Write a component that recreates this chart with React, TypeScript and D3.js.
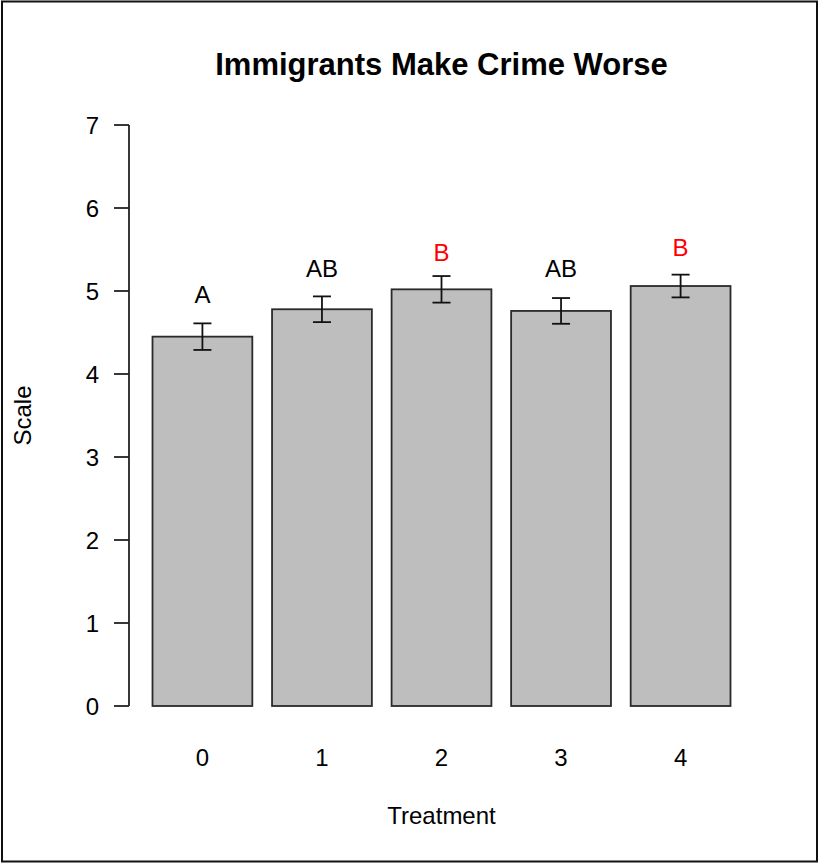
import React from "react";
import * as d3 from "d3";

// Treatment groups and their summary statistics
const treatments = ["0", "1", "2", "3", "4"];
const means = [4.45, 4.78, 5.02, 4.76, 5.06];
const stdErrors = [0.16, 0.155, 0.16, 0.155, 0.137];

// Compact letter display (group significance) and where each letter sits
const groupLetters = ["A", "AB", "B", "AB", "B"];
const letterColors = ["#000000", "#000000", "#ff0000", "#000000", "#ff0000"];
const letterHeights = [4.96, 5.27, 5.46, 5.27, 5.52];

const yTicks = [0, 1, 2, 3, 4, 5, 6, 7];

const W = 820;
const H = 865;
const FONT = "'Liberation Sans', Arial, sans-serif";

export default function App() {
  const y = d3.scaleLinear().domain([0, 7]).range([706, 125]);
  const x = d3
    .scaleBand<string>()
    .domain(treatments)
    .range([152.5, 730.5])
    .paddingInner(0.165)
    .paddingOuter(0);

  const axisX = 129;
  const tickLen = 15;
  const capW = 9;
  const plotCenter = (x(treatments[0])! + x(treatments[treatments.length - 1])! + x.bandwidth()) / 2;

  return (
    <svg
      width={W}
      height={H}
      style={{ position: "absolute", left: 0, top: 0, background: "#fff" }}
      fontFamily={FONT}
    >
      <rect x={0} y={0} width={W} height={H} fill="#fff" />
      <rect x={2} y={1.5} width={815} height={860} fill="none" stroke="#111" strokeWidth={2} />

      <text
        x={plotCenter}
        y={75}
        textAnchor="middle"
        fontSize={31}
        fontWeight="bold"
        fill="#000"
      >
        Immigrants Make Crime Worse
      </text>

      {/* Bars */}
      {treatments.map((t, i) => (
        <rect
          key={`bar-${t}`}
          x={x(t)}
          y={y(means[i])}
          width={x.bandwidth()}
          height={y(0) - y(means[i])}
          fill="#bebebe"
          stroke="#2a2a2a"
          strokeWidth={1.8}
        />
      ))}

      {/* Error bars: mean ± standard error */}
      {treatments.map((t, i) => {
        const cx = x(t)! + x.bandwidth() / 2;
        const top = y(means[i] + stdErrors[i]);
        const bot = y(means[i] - stdErrors[i]);
        return (
          <g key={`err-${t}`} stroke="#111" strokeWidth={1.8}>
            <line x1={cx} x2={cx} y1={top} y2={bot} />
            <line x1={cx - capW} x2={cx + capW} y1={top} y2={top} />
            <line x1={cx - capW} x2={cx + capW} y1={bot} y2={bot} />
          </g>
        );
      })}

      {/* Group letters */}
      {treatments.map((t, i) => (
        <text
          key={`lbl-${t}`}
          x={x(t)! + x.bandwidth() / 2}
          y={y(letterHeights[i])}
          dy="0.36em"
          textAnchor="middle"
          fontSize={24}
          fill={letterColors[i]}
        >
          {groupLetters[i]}
        </text>
      ))}

      {/* Y axis */}
      <g stroke="#222" strokeWidth={1.8}>
        <line x1={axisX} x2={axisX} y1={y(0)} y2={y(7)} />
        {yTicks.map((v) => (
          <line key={`yt-${v}`} x1={axisX - tickLen} x2={axisX} y1={y(v)} y2={y(v)} />
        ))}
      </g>
      {yTicks.map((v) => (
        <text
          key={`yl-${v}`}
          x={99}
          y={y(v)}
          dy="0.36em"
          textAnchor="end"
          fontSize={24}
          fill="#000"
        >
          {v}
        </text>
      ))}

      {/* X labels */}
      {treatments.map((t) => (
        <text
          key={`xl-${t}`}
          x={x(t)! + x.bandwidth() / 2}
          y={766}
          textAnchor="middle"
          fontSize={24}
          fill="#000"
        >
          {t}
        </text>
      ))}

      <text x={plotCenter} y={824} textAnchor="middle" fontSize={24} fill="#000">
        Treatment
      </text>
      <text
        transform={`translate(31, ${(y(0) + y(7)) / 2}) rotate(-90)`}
        textAnchor="middle"
        fontSize={24}
        fill="#000"
      >
        Scale
      </text>
    </svg>
  );
}
